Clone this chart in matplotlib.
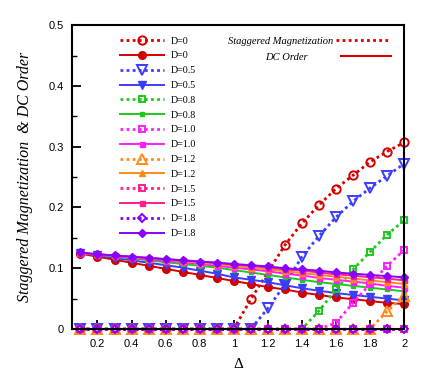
import matplotlib
matplotlib.use("Agg")
import matplotlib.pyplot as plt
from matplotlib.ticker import MultipleLocator
from matplotlib.lines import Line2D

# Delta grid used for the DC order curves
delta = [0.1, 0.2, 0.3, 0.4, 0.5, 0.6, 0.7, 0.8, 0.9, 1.0,
         1.1, 1.2, 1.3, 1.4, 1.5, 1.6, 1.7, 1.8, 1.9, 2.0]

d_labels = ["D=0", "D=0.5", "D=0.8", "D=1.0", "D=1.2", "D=1.5", "D=1.8"]

# staggered magnetization (dotted, open markers)
sm_x = {
    "D=0": [0.1, 0.2, 0.3, 0.4, 0.5, 0.6, 0.7, 0.8, 0.9, 1.0,
            1.1, 1.3, 1.4, 1.5, 1.6, 1.7, 1.8, 1.9, 2.0],
    "D=0.5": delta,
    "D=0.8": delta,
    "D=1.0": delta,
    "D=1.2": delta,
    "D=1.5": delta,
    "D=1.8": delta,
}
sm_y = {
    "D=0": [0, 0, 0, 0, 0, 0, 0, 0, 0, 0,
            0.049, 0.138, 0.174, 0.204, 0.231, 0.253, 0.275, 0.292, 0.307],
    "D=0.5": [0, 0, 0, 0, 0, 0, 0, 0, 0, 0,
              0, 0.034, 0.073, 0.119, 0.153, 0.184, 0.210, 0.232, 0.252, 0.272],
    "D=0.8": [0, 0, 0, 0, 0, 0, 0, 0, 0, 0,
              0, 0, 0, 0, 0.030, 0.065, 0.098, 0.127, 0.155, 0.179],
    "D=1.0": [0, 0, 0, 0, 0, 0, 0, 0, 0, 0,
              0, 0, 0, 0, 0, 0.010, 0.043, 0.074, 0.104, 0.130],
    "D=1.2": [0, 0, 0, 0, 0, 0, 0, 0, 0, 0,
              0, 0, 0, 0, 0, 0, 0, 0, 0.029, 0.055],
    "D=1.5": [0] * 20,
    "D=1.8": [0] * 20,
}

# DC order (solid, filled markers)
dc_y = {
    "D=0": [0.124, 0.119, 0.114, 0.109, 0.104, 0.099, 0.094, 0.089, 0.084, 0.079,
            0.074, 0.069, 0.065, 0.060, 0.056, 0.052, 0.049, 0.046, 0.043, 0.041],
    "D=0.5": [0.125, 0.121, 0.117, 0.113, 0.109, 0.105, 0.101, 0.096, 0.091, 0.085,
              0.081, 0.077, 0.072, 0.067, 0.063, 0.059, 0.056, 0.053, 0.050, 0.047],
    "D=0.8": [0.125, 0.122, 0.119, 0.116, 0.113, 0.110, 0.107, 0.104, 0.101, 0.097,
              0.093, 0.089, 0.085, 0.081, 0.077, 0.074, 0.071, 0.068, 0.065, 0.062],
    "D=1.0": [0.125, 0.122, 0.120, 0.117, 0.115, 0.112, 0.110, 0.107, 0.104, 0.101,
              0.098, 0.095, 0.091, 0.088, 0.084, 0.081, 0.078, 0.075, 0.071, 0.068],
    "D=1.2": [0.125, 0.123, 0.121, 0.118, 0.116, 0.114, 0.112, 0.109, 0.107, 0.104,
              0.101, 0.098, 0.095, 0.092, 0.089, 0.086, 0.083, 0.080, 0.077, 0.074],
    "D=1.5": [0.125, 0.123, 0.121, 0.119, 0.117, 0.115, 0.113, 0.111, 0.109, 0.106,
              0.104, 0.101, 0.098, 0.096, 0.093, 0.090, 0.088, 0.085, 0.083, 0.080],
    "D=1.8": [0.126, 0.123, 0.121, 0.119, 0.117, 0.115, 0.113, 0.111, 0.109, 0.107,
              0.105, 0.103, 0.100, 0.098, 0.096, 0.093, 0.091, 0.089, 0.087, 0.085],
}

colors = {
    "D=0": "#d40000",
    "D=0.5": "#3c3cff",
    "D=0.8": "#1ec81e",
    "D=1.0": "#ff1eff",
    "D=1.2": "#ff8a1a",
    "D=1.5": "#ff1e8c",
    "D=1.8": "#8a00ff",
}
sm_markers = {"D=0": ("o", 6), "D=0.5": ("v", 6.5), "D=0.8": ("s", 4.5),
              "D=1.0": ("s", 4.5), "D=1.2": ("^", 6.5), "D=1.5": ("s", 4.5),
              "D=1.8": ("D", 4.5)}
dc_markers = {"D=0": ("o", 5.5), "D=0.5": ("v", 6), "D=0.8": ("s", 3.2),
              "D=1.0": ("s", 3.6), "D=1.2": ("^", 5), "D=1.5": ("s", 3.6),
              "D=1.8": ("D", 4.5)}

serif = ["Liberation Serif", "DejaVu Serif"]
plt.rcParams["font.family"] = ["Liberation Sans", "DejaVu Sans"]

fig = plt.figure(figsize=(4.36, 3.81), dpi=100)
ax = fig.add_axes([0.165, 0.1365, 0.762, 0.7975])

for d in d_labels:
    m, ms = sm_markers[d]
    ax.plot(sm_x[d], sm_y[d], linestyle=(0, (1, 1.2)), linewidth=2,
            color=colors[d], marker=m, markersize=ms, markerfacecolor="none",
            markeredgewidth=1.4, label=d, clip_on=False, zorder=2)
    m, ms = dc_markers[d]
    ax.plot(delta, dc_y[d], linestyle="-", linewidth=1.4, color=colors[d],
            marker=m, markersize=ms, label=d, clip_on=False, zorder=2)

ax.set_xlim(0.05, 2.0)
ax.set_ylim(0, 0.5)
ax.xaxis.set_minor_locator(MultipleLocator(0.1))
ax.yaxis.set_minor_locator(MultipleLocator(0.05))
ax.set_xticks([0.2, 0.4, 0.6, 0.8, 1.0, 1.2, 1.4, 1.6, 1.8, 2.0])
ax.set_xticklabels(["0.2", "0.4", "0.6", "0.8", "1", "1.2", "1.4", "1.6", "1.8", "2"])
ax.set_yticks([0, 0.1, 0.2, 0.3, 0.4, 0.5])
ax.set_yticklabels(["0", "0.1", "0.2", "0.3", "0.4", "0.5"])
ax.tick_params(which="major", direction="in", length=6.5, width=1.3,
               labelsize=8, top=False, right=False)
ax.tick_params(which="minor", direction="in", length=3.5, width=1,
               top=False, right=False)
ax.tick_params(axis="x", pad=7)
ax.tick_params(axis="y", pad=6)
for s in ax.spines.values():
    s.set_linewidth(1.5)

ax.set_xlabel("Δ", family=serif, fontsize=11)
ax.xaxis.set_label_coords(0.5, -0.095)
ax.set_ylabel("Staggered Magnetization  & DC Order", family=serif,
              style="italic", fontsize=11.5)
ax.yaxis.set_label_coords(-0.117, 0.5)

leg1 = ax.legend(loc="upper left", bbox_to_anchor=(0.145, 0.962), frameon=False,
                 prop={"family": serif, "size": 7.2}, handlelength=4.4,
                 handletextpad=0.7, labelspacing=0.58, borderpad=0,
                 borderaxespad=0)
ax.add_artist(leg1)

sm_handle = Line2D([], [], color=colors["D=0"], linestyle=(0, (1, 1.2)), linewidth=2)
dc_handle = Line2D([], [], color=colors["D=0"], linestyle="-", linewidth=1.5)
leg2 = ax.legend([sm_handle], ["Staggered Magnetization"], loc="upper right",
                 bbox_to_anchor=(0.961, 0.962), frameon=False, markerfirst=False,
                 prop={"family": serif, "style": "italic", "size": 7.6},
                 handlelength=5.2, handletextpad=0.3, borderpad=0, borderaxespad=0)
ax.add_artist(leg2)
leg3 = ax.legend([dc_handle], ["DC Order"], loc="upper right",
                 bbox_to_anchor=(0.961, 0.909), frameon=False, markerfirst=False,
                 prop={"family": serif, "style": "italic", "size": 7.6},
                 handlelength=4.8, handletextpad=3.1, borderpad=0, borderaxespad=0)

fig.savefig("out.png", dpi=100)
